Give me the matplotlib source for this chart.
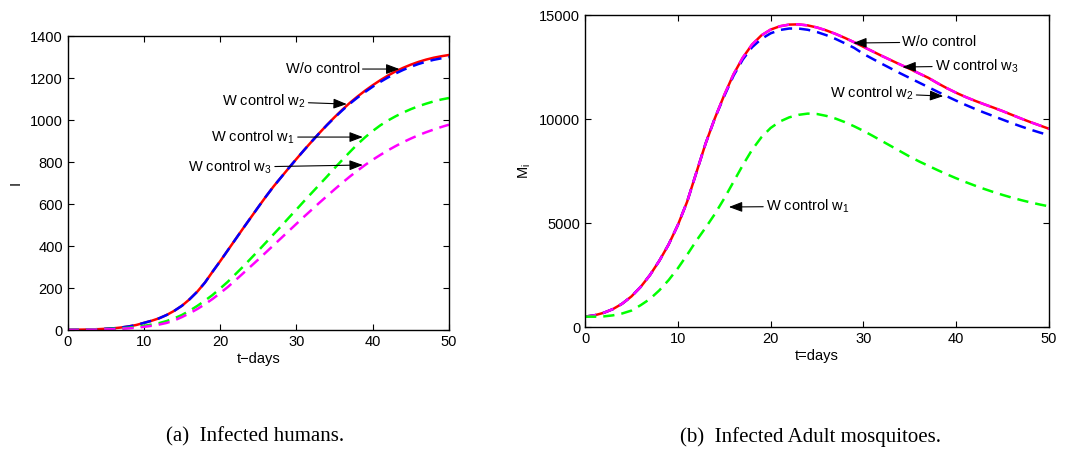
import numpy as np
import matplotlib.pyplot as plt

# time grid (days)
t = list(range(0, 51))

# (a) infected humans I
I_no_ctrl = [1, 1.5, 2, 3, 4, 6, 8, 12, 17, 24,
             34, 44, 56, 72, 92, 116, 147, 183, 226, 278,
             328, 380, 432, 484, 535, 586, 636, 684, 728, 772,
             815, 857, 898, 938, 977, 1014, 1049, 1082, 1112, 1140,
             1166, 1190, 1212, 1232, 1249, 1264, 1277, 1288, 1297, 1304,
             1310]
I_w2 = [1, 1.5, 2, 3, 4, 6, 8, 12, 17, 24,
        34, 44, 56, 72, 92, 116, 147, 183, 226, 278,
        328, 380, 432, 484, 535, 586, 636, 684, 728, 772,
        815, 857, 898, 938, 976, 1012, 1046, 1078, 1107, 1134,
        1159, 1182, 1203, 1222, 1239, 1254, 1267, 1278, 1287, 1294,
        1300]
I_w1 = [1, 1, 2, 2, 3, 4, 6, 8, 11, 15,
        20, 26, 33, 43, 56, 72, 92, 115, 140, 167,
        198, 230, 266, 302, 340, 378, 417, 456, 495, 535,
        574, 614, 653, 692, 731, 771, 810, 848, 885, 918,
        948, 975, 998, 1018, 1036, 1052, 1066, 1078, 1089, 1098,
        1105]
I_w3 = [1, 1, 1, 2, 2, 3, 4, 6, 8, 11,
        15, 20, 26, 34, 46, 62, 80, 100, 123, 148,
        176, 205, 237, 270, 303, 336, 370, 404, 438, 472,
        506, 540, 573, 606, 638, 670, 701, 731, 759, 786,
        811, 834, 856, 876, 895, 912, 928, 942, 955, 967,
        978]

# (b) infected adult mosquitoes M_i
M_no_ctrl = [500, 560, 680, 860, 1120, 1470, 1930, 2500, 3180, 3960,
             4900, 6020, 7430, 8830, 10050, 11150, 12150, 12950, 13580, 14020,
             14300, 14460, 14540, 14550, 14500, 14400, 14260, 14090, 13900, 13690,
             13470, 13250, 13030, 12820, 12610, 12410, 12190, 11980, 11720, 11480,
             11260, 11060, 10880, 10710, 10550, 10380, 10200, 10020, 9850, 9690,
             9530]
M_w3 = list(M_no_ctrl)
M_w2 = [500, 560, 680, 860, 1120, 1470, 1930, 2500, 3180, 3960,
        4900, 6020, 7430, 8830, 10050, 11100, 12080, 12860, 13450, 13850,
        14120, 14280, 14350, 14350, 14290, 14180, 14030, 13850, 13640, 13420,
        13130, 12890, 12650, 12420, 12190, 11970, 11750, 11530, 11310, 11090,
        10880, 10680, 10490, 10310, 10140, 9970, 9800, 9640, 9490, 9350,
        9220]
M_w1 = [500, 495, 510, 560, 650, 790, 1050, 1350, 1760, 2250,
        2820, 3470, 4150, 4780, 5440, 6180, 6980, 7780, 8520, 9120,
        9570, 9880, 10080, 10200, 10260, 10240, 10150, 10020, 9850, 9650,
        9430, 9190, 8940, 8690, 8440, 8190, 7960, 7750, 7540, 7340,
        7150, 6970, 6800, 6640, 6490, 6350, 6220, 6100, 5990, 5890,
        5800]

plt.rcParams['font.family'] = ['Liberation Sans', 'DejaVu Sans']
plt.rcParams['mathtext.fontset'] = 'custom'
plt.rcParams['mathtext.rm'] = 'Liberation Sans'
plt.rcParams['mathtext.it'] = 'Liberation Sans'

fs = 10.5
lw = 1.8
dash = (4.5, 2.8)

fig = plt.figure(figsize=(10.66, 4.55), dpi=100)
ax1 = fig.add_axes([0.0635, 0.2747, 0.3577, 0.646])
ax2 = fig.add_axes([0.5488, 0.2813, 0.4353, 0.6857])

ax1.plot(t, I_no_ctrl, color='#ff0000', lw=lw)
ax1.plot(t, I_w2, color='#0000ff', lw=lw, dashes=dash)
ax1.plot(t, I_w1, color='#00ff00', lw=lw, dashes=dash)
ax1.plot(t, I_w3, color='#ff00ff', lw=lw, dashes=dash)

ax2.plot(t, M_no_ctrl, color='#ff0000', lw=lw)
ax2.plot(t, M_w2, color='#0000ff', lw=lw, dashes=dash)
ax2.plot(t, M_w3, color='#ff00ff', lw=lw, dashes=dash)
ax2.plot(t, M_w1, color='#00ff00', lw=lw, dashes=dash)

arr = dict(arrowstyle='-|>,head_length=0.45,head_width=0.17', color='k', lw=0.8,
           mutation_scale=18, shrinkA=0, shrinkB=0)

# annotations (a)
ax1.annotate('W/o control', xy=(43.5, 1243), xytext=(38.3, 1243), fontsize=fs,
             ha='right', va='center', arrowprops=arr)
ax1.annotate('W control w$_2$', xy=(36.6, 1076), xytext=(31.2, 1090), fontsize=fs,
             ha='right', va='center', arrowprops=arr)
ax1.annotate('W control w$_1$', xy=(38.7, 919), xytext=(29.8, 919), fontsize=fs,
             ha='right', va='center', arrowprops=arr)
ax1.annotate('W control w$_3$', xy=(38.7, 786), xytext=(26.8, 775), fontsize=fs,
             ha='right', va='center', arrowprops=arr)

# annotations (b)
ax2.annotate('W/o control', xy=(28.9, 13654), xytext=(34.2, 13700), fontsize=fs,
             ha='left', va='center', arrowprops=arr)
ax2.annotate('W control w$_3$', xy=(34.2, 12500), xytext=(37.7, 12550), fontsize=fs,
             ha='left', va='center', arrowprops=arr)
ax2.annotate('W control w$_2$', xy=(38.6, 11100), xytext=(35.4, 11250), fontsize=fs,
             ha='right', va='center', arrowprops=arr)
ax2.annotate('W control w$_1$', xy=(15.5, 5770), xytext=(19.5, 5800), fontsize=fs,
             ha='left', va='center', arrowprops=arr)

for ax in (ax1, ax2):
    ax.set_xlim(0, 50)
    ax.set_xticks([0, 10, 20, 30, 40, 50])
    ax.tick_params(direction='in', top=True, right=True, length=4, width=0.8,
                   labelsize=fs, colors='k')
    for s in ax.spines.values():
        s.set_linewidth(1.0)

ax1.set_ylim(0, 1400)
ax1.set_yticks(range(0, 1401, 200))
ax2.set_ylim(0, 15000)
ax2.set_yticks([0, 5000, 10000, 15000])

ax1.set_xlabel('t\u2212days', fontsize=fs, labelpad=2)
ax1.set_ylabel('I', fontsize=fs, labelpad=5)
ax2.set_xlabel('t=days', fontsize=fs, labelpad=2)
ax2.set_ylabel('M$_i$', fontsize=fs, labelpad=4)

fig.text(0.2392, 0.04, '(a)  Infected humans.', fontsize=15, ha='center',
         va='center', family='Liberation Serif')
fig.text(0.760, 0.04, '(b)  Infected Adult mosquitoes.', fontsize=15, ha='center',
         va='center', family='Liberation Serif')

fig.savefig('out.png', dpi=100)
